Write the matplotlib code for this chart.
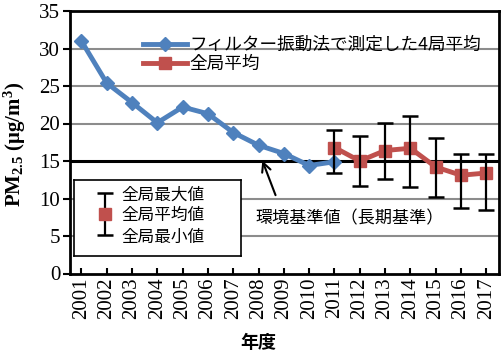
import numpy as np
import matplotlib
matplotlib.use("Agg")
import matplotlib.pyplot as plt

plt.rcParams['font.family'] = 'serif'
plt.rcParams['font.serif'] = ['Liberation Serif']
plt.rcParams['mathtext.fontset'] = 'custom'
plt.rcParams['mathtext.rm'] = 'Liberation Serif'
plt.rcParams['mathtext.bf'] = 'Liberation Serif:bold'
plt.rcParams['mathtext.it'] = 'Liberation Serif:italic'

# data
years = list(range(2001, 2018))
years_4st = list(range(2001, 2012))
avg_4st = [31.0, 25.4, 22.8, 20.1, 22.2, 21.3, 18.8, 17.1, 16.0, 14.4, 14.9]
years_all = list(range(2011, 2018))
avg_all = [16.8, 15.0, 16.4, 16.7, 14.2, 13.1, 13.4]
max_all = [19.2, 18.4, 20.1, 21.0, 18.1, 16.0, 15.9]
min_all = [13.4, 11.7, 12.6, 11.6, 10.2, 8.7, 8.5]
standard = 15

blue = '#4F81BD'
red = '#C0504D'
cjk = ['Noto Sans CJK JP', 'DejaVu Sans']

W, H = 504, 354
fig = plt.figure(figsize=(W / 100, H / 100), dpi=100)
ax = fig.add_axes([70 / W, 1 - 273.5 / H, 429 / W, 262.5 / H])

for v in [5, 10, 20, 25, 30]:
    ax.axhline(v, color='#8c8c8c', lw=1.5, zorder=1)
ax.axhline(standard, color='black', lw=2.2, zorder=2)

l1, = ax.plot(years_4st, avg_4st, color=blue, lw=3.5, marker='D', ms=7.5,
              zorder=4, label='フィルター振動法で測定した4局平均')
l2, = ax.plot(years_all, avg_all, color=red, lw=3.5, marker='s', ms=8,
              zorder=3, label='全局平均')
avg = np.array(avg_all)
ax.errorbar(years_all, avg, yerr=[avg - np.array(min_all), np.array(max_all) - avg],
            fmt='none', ecolor='black', elinewidth=1.6, capsize=6, capthick=1.8,
            zorder=5)

ax.set_xlim(2000.55, 2017.5)
ax.set_ylim(0, 35)
ax.set_yticks(range(0, 36, 5))
ax.set_xticks(years)
ax.set_xticklabels([str(y) for y in years], rotation=90, fontsize=15,
                   family='Liberation Serif')
ax.set_yticklabels([str(v) for v in range(0, 36, 5)], fontsize=15,
                   family='Liberation Serif')
ax.tick_params(axis='y', direction='out', length=5, width=1.5, pad=2)
ax.tick_params(axis='x', direction='in', length=4, width=1.5, pad=3)
for s in ax.spines.values():
    s.set_linewidth(2)

ax.set_ylabel(r'$\mathbf{PM_{2.5}}$ $\mathbf{(\mu g/m^{3})}$', fontsize=15)
ax.yaxis.set_label_coords(-(70 - 28) / 429, 0.5 - 0.5 * (142 - 138) / 262.5)
fig.text(258 / W, 1 - 343 / H, '年度', family=cjk, fontsize=13,
         fontweight='bold', ha='center', va='center')

ax.annotate('', xy=(2008.11, 15.4), xytext=(2008.71, 10.1),
            arrowprops=dict(arrowstyle='->', color='black', lw=1.5,
                            mutation_scale=16), zorder=6)
ax.text(2011.6, 7.4, '環境基準値（長期基準）', family=cjk, fontsize=12.3,
        ha='center', va='center', zorder=6)

fig.legend(handles=[l1, l2], loc='upper left',
           bbox_to_anchor=(134 / W, 1 - 27 / H), frameon=False,
           prop={'family': cjk, 'size': 12.7}, handlelength=2.5,
           handletextpad=0.15, labelspacing=0.08, borderpad=0)

# min/avg/max legend box
lax = fig.add_axes([74 / W, 1 - 256 / H, 167 / W, 76 / H])
lax.set_xlim(0, 167)
lax.set_ylim(76, 0)
lax.set_xticks([])
lax.set_yticks([])
for s in lax.spines.values():
    s.set_linewidth(1.2)
lax.errorbar([31], [34], yerr=[[21], [21]], fmt='s', color=red, ms=8,
             ecolor='black', elinewidth=1.6, capsize=6, capthick=1.8)
for yy, t in zip([15, 35, 57], ['全局最大値', '全局平均値', '全局最小値']):
    lax.text(47, yy, t, family=cjk, fontsize=12, va='center', ha='left')

fig.savefig('out.png', dpi=100)
